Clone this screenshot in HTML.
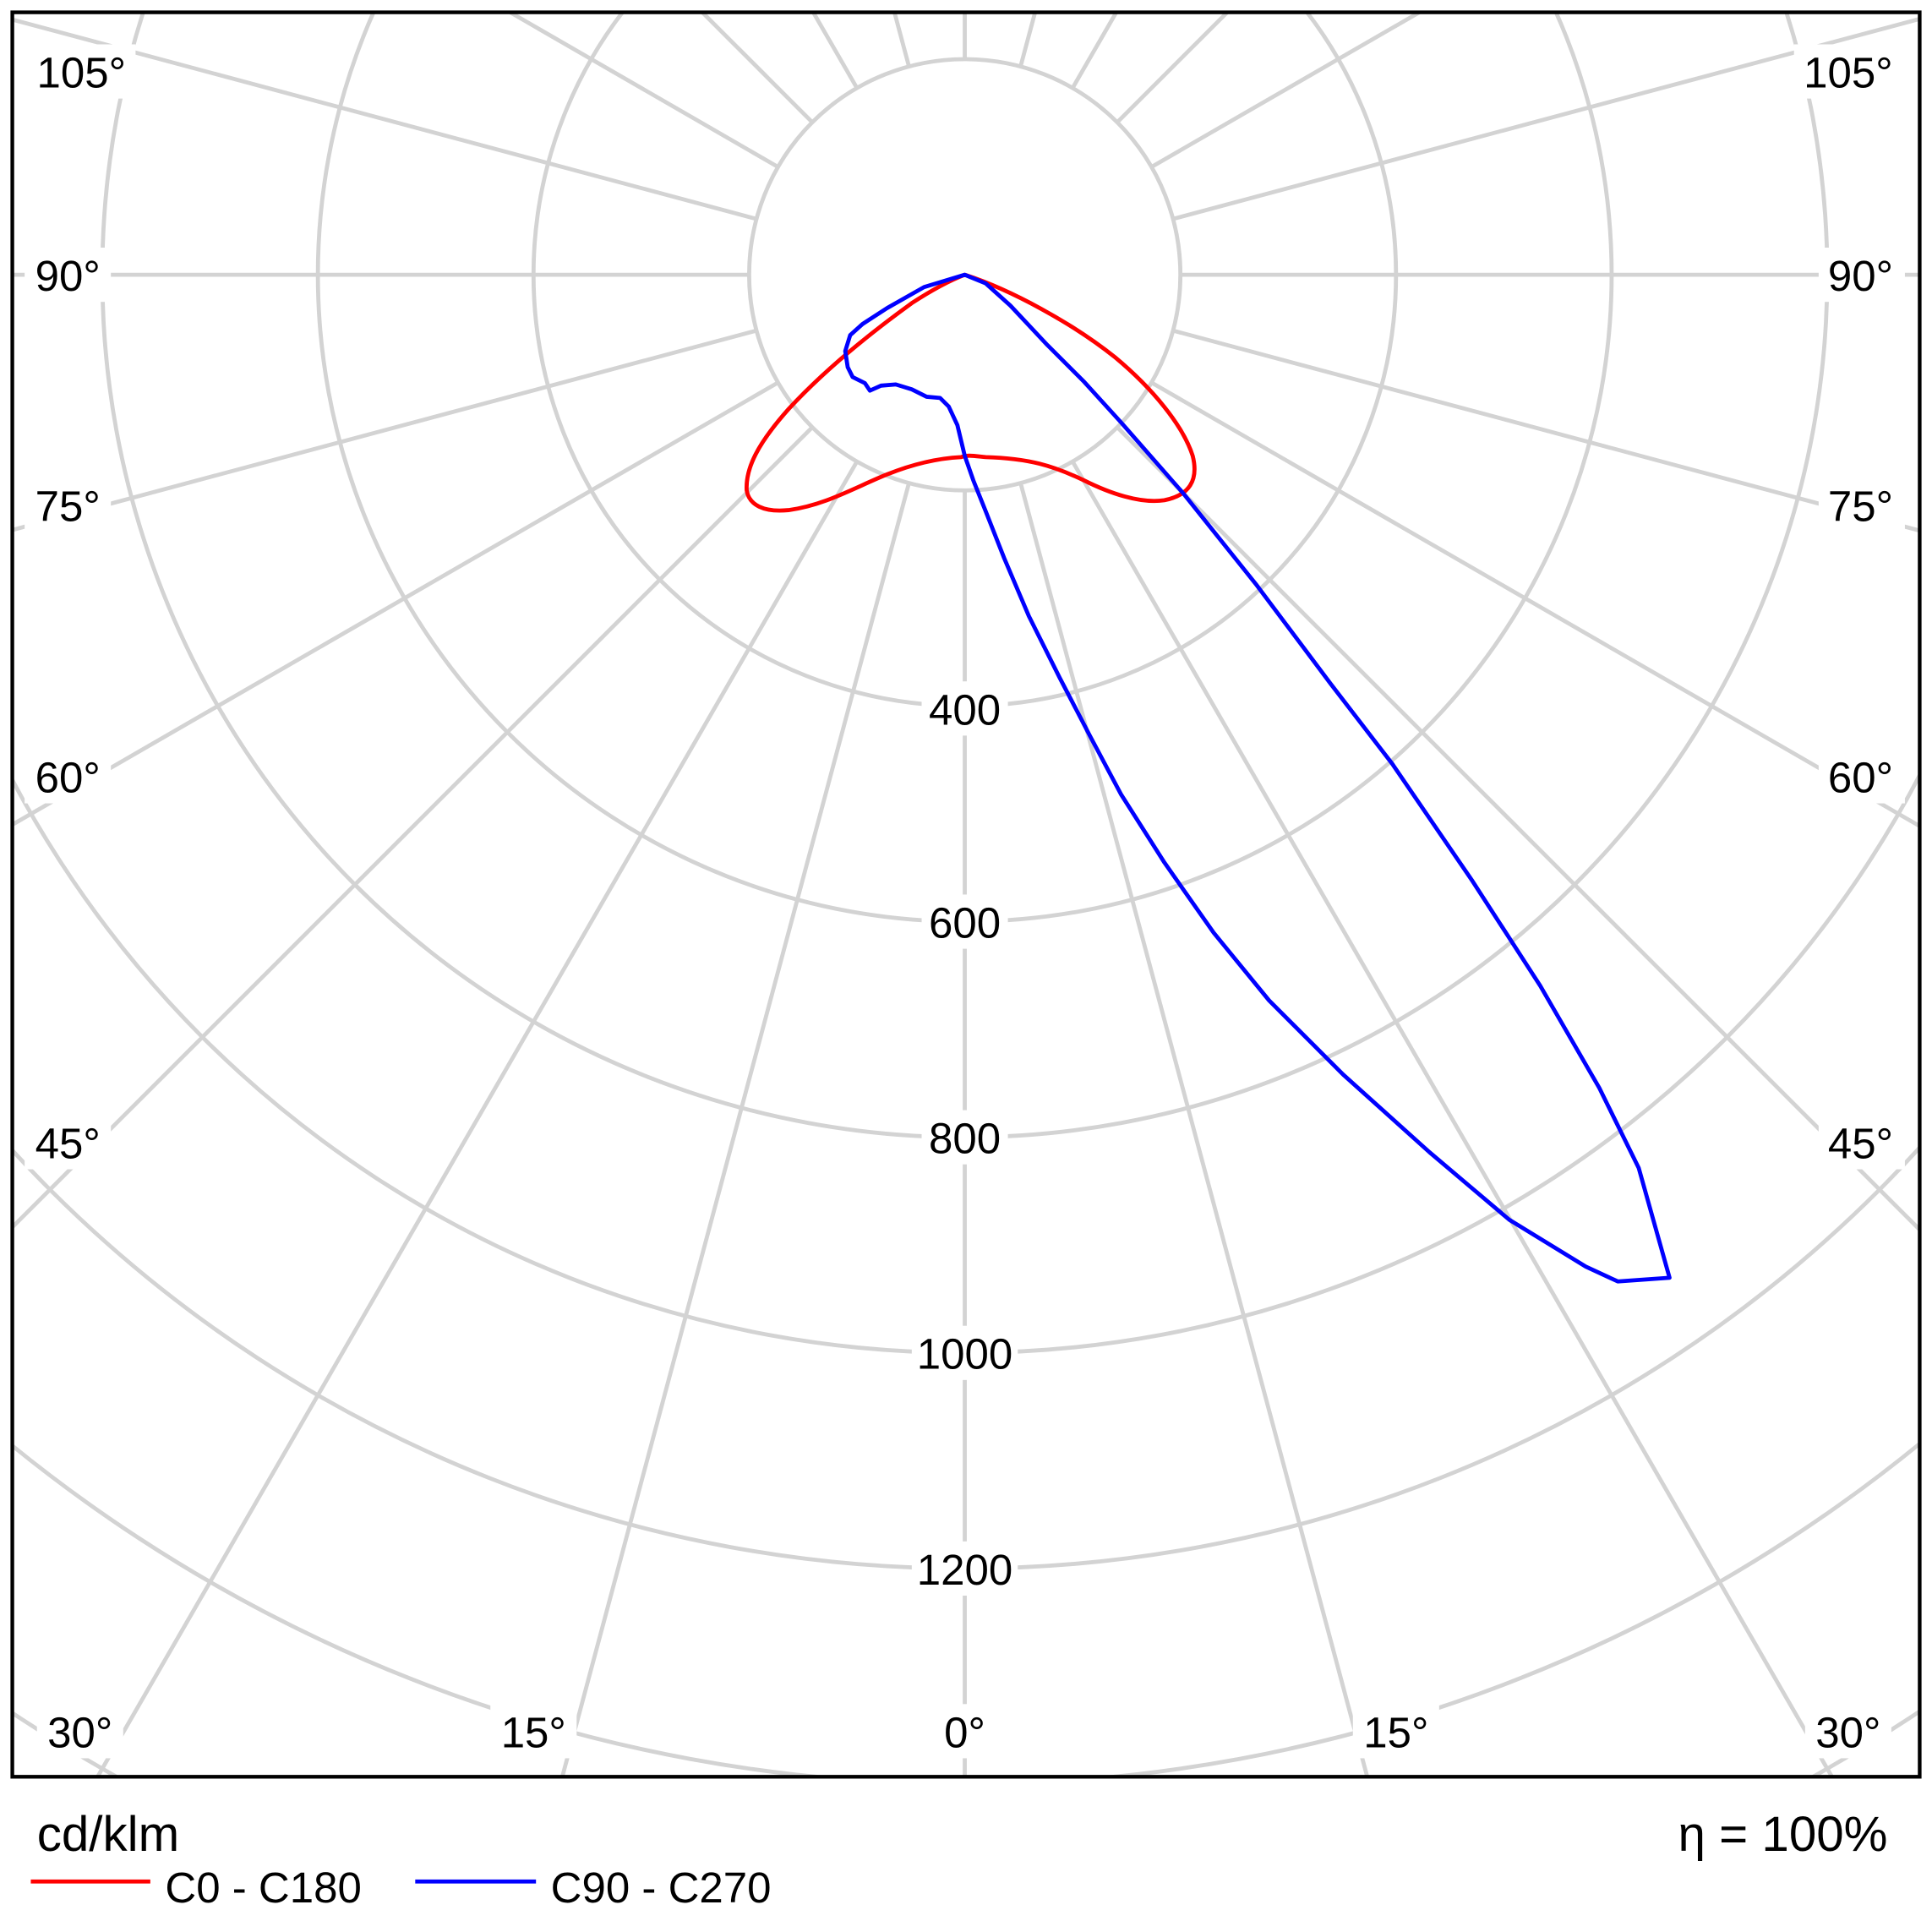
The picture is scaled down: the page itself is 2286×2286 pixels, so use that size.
<!DOCTYPE html>
<html><head><meta charset="utf-8"><style>html,body{margin:0;padding:0;background:#fff;width:2286px;height:2286px;overflow:hidden}svg{display:block}</style></head>
<body>
<svg xmlns="http://www.w3.org/2000/svg" width="2286" height="2286" viewBox="0 0 1568 1568">
<defs><clipPath id="c"><rect x="10" y="10" width="1548" height="1432"/></clipPath></defs>
<rect width="1568" height="1568" fill="#fff"/>
<g clip-path="url(#c)" stroke="#d3d3d3" stroke-width="3.3" fill="none">
<circle cx="783" cy="223" r="175"/><circle cx="783" cy="223" r="350"/><circle cx="783" cy="223" r="525"/>
<circle cx="783" cy="223" r="700"/><circle cx="783" cy="223" r="875"/><circle cx="783" cy="223" r="1050"/>
<circle cx="783" cy="223" r="1225"/><circle cx="783" cy="223" r="1400"/><circle cx="783" cy="223" r="1575"/>
<g id="rad">
<line x1="783" y1="398" x2="783" y2="2223"/>
</g>
<use href="#rad" transform="rotate(15 783 223)"/><use href="#rad" transform="rotate(30 783 223)"/>
<use href="#rad" transform="rotate(45 783 223)"/><use href="#rad" transform="rotate(60 783 223)"/>
<use href="#rad" transform="rotate(75 783 223)"/><use href="#rad" transform="rotate(90 783 223)"/>
<use href="#rad" transform="rotate(105 783 223)"/><use href="#rad" transform="rotate(120 783 223)"/>
<use href="#rad" transform="rotate(135 783 223)"/><use href="#rad" transform="rotate(150 783 223)"/>
<use href="#rad" transform="rotate(165 783 223)"/><use href="#rad" transform="rotate(180 783 223)"/>
<use href="#rad" transform="rotate(195 783 223)"/><use href="#rad" transform="rotate(210 783 223)"/>
<use href="#rad" transform="rotate(225 783 223)"/><use href="#rad" transform="rotate(240 783 223)"/>
<use href="#rad" transform="rotate(255 783 223)"/><use href="#rad" transform="rotate(270 783 223)"/>
<use href="#rad" transform="rotate(285 783 223)"/><use href="#rad" transform="rotate(300 783 223)"/>
<use href="#rad" transform="rotate(315 783 223)"/><use href="#rad" transform="rotate(330 783 223)"/>
<use href="#rad" transform="rotate(345 783 223)"/>
</g>
<g font-family="Liberation Sans, sans-serif" font-size="35" text-anchor="middle" fill="#000">
<g fill="#fff"><rect x="20" y="36" width="90" height="44"/><rect x="20" y="201" width="70" height="44"/><rect x="20" y="388" width="70" height="44"/><rect x="20" y="608" width="70" height="44"/><rect x="20" y="905" width="70" height="44"/>
<rect x="1456" y="36" width="90" height="44"/><rect x="1476" y="201" width="70" height="44"/><rect x="1476" y="388" width="70" height="44"/><rect x="1476" y="608" width="70" height="44"/><rect x="1476" y="905" width="70" height="44"/>
<rect x="30" y="1383" width="70" height="44"/><rect x="398" y="1383" width="70" height="44"/><rect x="758" y="1383" width="50" height="44"/><rect x="1098" y="1383" width="70" height="44"/><rect x="1465" y="1383" width="70" height="44"/>
<rect x="748" y="553" width="70" height="44"/><rect x="748" y="726" width="70" height="44"/><rect x="748" y="901" width="70" height="44"/><rect x="740" y="1076" width="86" height="44"/><rect x="740" y="1251" width="86" height="44"/></g>
<text x="66" y="71">105°</text><text x="55" y="236">90°</text><text x="55" y="423">75°</text><text x="55" y="643">60°</text><text x="55" y="940">45°</text>
<text x="1500" y="71">105°</text><text x="1510" y="236">90°</text><text x="1510" y="423">75°</text><text x="1510" y="643">60°</text><text x="1510" y="940">45°</text>
<text x="65" y="1418">30°</text><text x="433" y="1418">15°</text><text x="783" y="1418">0°</text><text x="1133" y="1418">15°</text><text x="1500" y="1418">30°</text>
<text x="783" y="588">400</text><text x="783" y="761">600</text><text x="783" y="936">800</text><text x="783" y="1111">1000</text><text x="783" y="1286">1200</text>
</g>
<path fill="none" stroke="#f00" stroke-width="3.3" stroke-linejoin="round" d="M783,223 C820,235 870,262 905,290 C935,315 960,345 968,370 C973,390 965,402 945,406 C925,409 900,400 880,390 C855,378 835,372 800,371 C790,370 785,369 780,371 C760,372 740,377 720,385 C695,395 670,410 640,414 C620,416 608,410 606,398 C605,380 615,360 640,332 C665,305 700,275 740,246 C760,233 775,226 783,223 Z"/>
<path fill="none" stroke="#00f" stroke-width="3.3" stroke-linejoin="round" d="M783,223 L800,230 L820,248 L850,280 L880,310 L910,343 L960,400 L1020,475 L1080,555 L1130,620 L1195,715 L1250,800 L1298,883 L1330,948 L1355,1037 L1313,1040 L1287,1028 L1225,990 L1160,935 L1090,872 L1030,812 L985,757 L945,700 L910,645 L885,598 L860,550 L835,500 L815,453 L800,415 L790,390 L783,370 L777,345 L770,330 L763,323 L752,322 L740,316 L727,312 L715,313 L706,317 L702,311 L692,306 L688,298 L686,285 L690,272 L700,263 L720,250 L750,233 Z"/>
<rect x="10" y="10" width="1548" height="1432" fill="none" stroke="#000" stroke-width="3"/>
<g font-family="Liberation Sans, sans-serif" fill="#000">
<text x="30" y="1502" font-size="40">cd/klm</text>
<text x="1532" y="1502" font-size="40" text-anchor="end">η = 100%</text>
<line x1="25" y1="1527" x2="122" y2="1527" stroke="#f00" stroke-width="3.3"/>
<text x="134" y="1544" font-size="35">C0 - C180</text>
<line x1="337" y1="1527" x2="435" y2="1527" stroke="#00f" stroke-width="3.3"/>
<text x="447" y="1544" font-size="35">C90 - C270</text>
</g>
</svg>
</body></html>
